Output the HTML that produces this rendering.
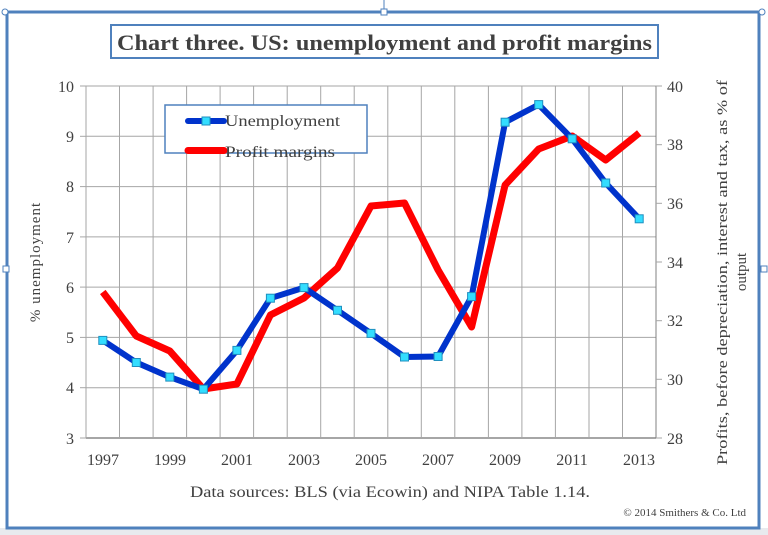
<!DOCTYPE html>
<html><head><style>
body{margin:0;background:#fff;}
svg{display:block;font-family:"Liberation Serif",serif;}
</style></head><body>
<svg width="768" height="535" viewBox="0 0 768 535" xmlns="http://www.w3.org/2000/svg">
<rect x="0" y="0" width="768" height="535" fill="#fff"/>
<rect x="0" y="528" width="768" height="7" fill="#e8eaee"/>
<rect x="7" y="12" width="752" height="516" fill="none" stroke="#4f81bd" stroke-width="3"/>
<line x1="384" y1="0" x2="384" y2="12" stroke="#4f81bd" stroke-width="1"/>
<rect x="381" y="9" width="6" height="6" fill="#fff" stroke="#4f81bd"/>
<circle cx="5" cy="12" r="3" fill="#fff" stroke="#4f81bd"/>
<circle cx="762" cy="12" r="3" fill="#fff" stroke="#4f81bd"/>
<rect x="761" y="266" width="6" height="6" fill="#fff" stroke="#4f81bd"/>
<rect x="3" y="266" width="6" height="6" fill="#fff" stroke="#4f81bd"/>
<!-- title -->
<rect x="111" y="25" width="547" height="33" fill="#fff" stroke="#4f81bd" stroke-width="2"/>
<text x="117" y="50" font-size="22" font-weight="bold" fill="#404040" textLength="535" lengthAdjust="spacingAndGlyphs">Chart three. US: unemployment and profit margins</text>
<!-- grid -->
<g stroke="#a6a6a6" stroke-width="1">
<line x1="86" y1="86" x2="656" y2="86"/>
<line x1="86" y1="136.3" x2="656" y2="136.3"/>
<line x1="86" y1="186.6" x2="656" y2="186.6"/>
<line x1="86" y1="236.9" x2="656" y2="236.9"/>
<line x1="86" y1="287.1" x2="656" y2="287.1"/>
<line x1="86" y1="337.4" x2="656" y2="337.4"/>
<line x1="86" y1="387.7" x2="656" y2="387.7"/>
<line x1="86" y1="438" x2="656" y2="438" stroke-width="2"/>
<line x1="86" y1="86" x2="86" y2="438"/><line x1="119.5" y1="86" x2="119.5" y2="438"/><line x1="153.1" y1="86" x2="153.1" y2="438"/><line x1="186.6" y1="86" x2="186.6" y2="438"/><line x1="220.1" y1="86" x2="220.1" y2="438"/><line x1="253.6" y1="86" x2="253.6" y2="438"/><line x1="287.2" y1="86" x2="287.2" y2="438"/><line x1="320.7" y1="86" x2="320.7" y2="438"/><line x1="354.2" y1="86" x2="354.2" y2="438"/><line x1="387.8" y1="86" x2="387.8" y2="438"/><line x1="421.3" y1="86" x2="421.3" y2="438"/><line x1="454.8" y1="86" x2="454.8" y2="438"/><line x1="488.4" y1="86" x2="488.4" y2="438"/><line x1="521.9" y1="86" x2="521.9" y2="438"/><line x1="555.4" y1="86" x2="555.4" y2="438"/><line x1="589" y1="86" x2="589" y2="438"/><line x1="622.5" y1="86" x2="622.5" y2="438"/><line x1="656" y1="86" x2="656" y2="438" stroke="#808080"/>
<line x1="656" y1="86" x2="662" y2="86"/><line x1="656" y1="144.7" x2="662" y2="144.7"/><line x1="656" y1="203.3" x2="662" y2="203.3"/><line x1="656" y1="262" x2="662" y2="262"/><line x1="656" y1="320.7" x2="662" y2="320.7"/><line x1="656" y1="379.3" x2="662" y2="379.3"/><line x1="656" y1="438" x2="662" y2="438"/>
<line x1="80" y1="86" x2="86" y2="86"/><line x1="80" y1="136.3" x2="86" y2="136.3"/><line x1="80" y1="186.6" x2="86" y2="186.6"/><line x1="80" y1="236.9" x2="86" y2="236.9"/><line x1="80" y1="287.1" x2="86" y2="287.1"/><line x1="80" y1="337.4" x2="86" y2="337.4"/><line x1="80" y1="387.7" x2="86" y2="387.7"/><line x1="80" y1="438" x2="86" y2="438"/>
</g>
<!-- left ticks -->
<g font-size="16" fill="#404040" text-anchor="end">
<text x="74" y="92">10</text><text x="74" y="142">9</text><text x="74" y="192">8</text><text x="74" y="243">7</text><text x="74" y="293">6</text><text x="74" y="343">5</text><text x="74" y="393">4</text><text x="74" y="444">3</text>
</g>
<g font-size="16" fill="#404040">
<text x="667" y="92">40</text><text x="667" y="150">38</text><text x="667" y="209">36</text><text x="667" y="268">34</text><text x="667" y="326">32</text><text x="667" y="385">30</text><text x="667" y="444">28</text>
</g>
<g font-size="16" fill="#404040" text-anchor="middle">
<text x="103" y="465">1997</text><text x="170" y="465">1999</text><text x="237" y="465">2001</text><text x="304" y="465">2003</text><text x="371" y="465">2005</text><text x="438" y="465">2007</text><text x="505" y="465">2009</text><text x="572" y="465">2011</text><text x="639" y="465">2013</text>
</g>
<text transform="translate(40,262) rotate(-90)" font-size="15" fill="#404040" text-anchor="middle" letter-spacing="1">% unemployment</text>
<text transform="translate(727,465) rotate(-90)" font-size="15" fill="#404040" textLength="385" lengthAdjust="spacingAndGlyphs">Profits, before depreciation, interest and tax, as % of</text>
<text transform="translate(746,272) rotate(-90)" font-size="15" fill="#404040" text-anchor="middle">output</text>
<text x="190" y="497" font-size="16" fill="#404040" textLength="400" lengthAdjust="spacingAndGlyphs">Data sources: BLS (via Ecowin) and NIPA Table 1.14.</text>
<text x="746" y="516" font-size="11" fill="#404040" text-anchor="end">© 2014 Smithers &amp; Co. Ltd</text>
<!-- series -->
<polyline fill="none" stroke="#ff0000" stroke-width="7" stroke-linejoin="round" points="102.8,292 136.3,336 169.8,351 203.4,389 236.9,384 270.4,315 304,298 337.5,268 371,206 404.5,203 438.1,270 471.6,327 505.1,185 538.7,149 572.2,136 605.7,160 639.2,133"/>
<polyline fill="none" stroke="#0033cc" stroke-width="6" stroke-linejoin="round" points="102.8,340.4 136.3,362.5 169.8,377.1 203.4,389.2 236.9,350.4 270.4,298.2 304,287.6 337.5,310.3 371,333.4 404.5,357 438.1,356.5 471.6,296.6 505.1,122.2 538.7,104.6 572.2,138.8 605.7,183 639.2,218.8"/>
<g fill="#33ddff" stroke="#1f8fbf" stroke-width="1">
<rect x="98.8" y="336.4" width="8" height="8"/><rect x="132.3" y="358.5" width="8" height="8"/><rect x="165.8" y="373.1" width="8" height="8"/><rect x="199.4" y="385.2" width="8" height="8"/><rect x="232.9" y="346.4" width="8" height="8"/><rect x="266.4" y="294.2" width="8" height="8"/><rect x="300" y="283.6" width="8" height="8"/><rect x="333.5" y="306.3" width="8" height="8"/><rect x="367" y="329.4" width="8" height="8"/><rect x="400.5" y="353" width="8" height="8"/><rect x="434.1" y="352.5" width="8" height="8"/><rect x="467.6" y="292.6" width="8" height="8"/><rect x="501.1" y="118.2" width="8" height="8"/><rect x="534.7" y="100.6" width="8" height="8"/><rect x="568.2" y="134.8" width="8" height="8"/><rect x="601.7" y="179" width="8" height="8"/><rect x="635.2" y="214.8" width="8" height="8"/>
</g>
<!-- legend -->
<rect x="165" y="105" width="202" height="48" fill="#fff" stroke="#4f81bd" stroke-width="1.5"/>
<line x1="188" y1="121" x2="224" y2="121" stroke="#0033cc" stroke-width="6" stroke-linecap="round"/>
<rect x="202" y="117" width="8" height="8" fill="#33ddff" stroke="#1f8fbf"/>
<text x="225" y="126" font-size="16" fill="#404040" textLength="115" lengthAdjust="spacingAndGlyphs">Unemployment</text>
<line x1="188" y1="151" x2="224" y2="151" stroke="#ff0000" stroke-width="7" stroke-linecap="round" transform="translate(0,-0.5)"/>
<text x="225" y="157" font-size="16" fill="#404040" textLength="110" lengthAdjust="spacingAndGlyphs">Profit margins</text>
</svg>
</body></html>
